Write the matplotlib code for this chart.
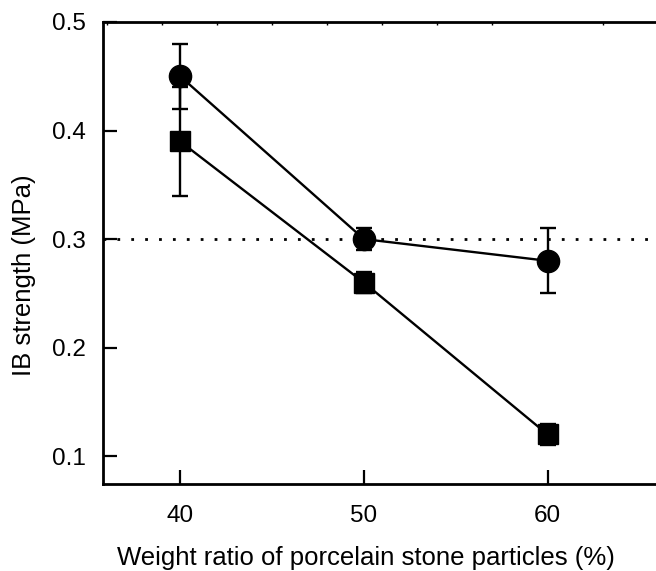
import numpy as np
import matplotlib.pyplot as plt

plt.rcParams['font.family'] = ['Liberation Sans', 'DejaVu Sans']

# weight ratio of porcelain stone particles (%)
ratio = [40, 50, 60]

# IB strength (MPa)
ib_circle = [0.45, 0.30, 0.28]
err_circle = [0.03, 0.01, 0.03]
ib_square = [0.39, 0.26, 0.12]
err_square = [0.05, 0.01, 0.01]

ref_level = 0.3

fig = plt.figure(figsize=(6.56, 5.71), dpi=100)
ax = fig.add_axes([0.157, 0.152, 0.843, 0.8095])

ax.axhline(ref_level, color='k', lw=2, linestyle=(0, (1, 4)), zorder=1)

ax.errorbar(ratio, ib_square, yerr=err_square, color='k', marker='s',
            markersize=14, lw=1.7, elinewidth=1.7, capsize=6, capthick=1.7,
            zorder=3)
ax.errorbar(ratio, ib_circle, yerr=err_circle, color='k', marker='o',
            markersize=16, lw=1.7, elinewidth=1.7, capsize=6, capthick=1.7,
            zorder=4)

ax.set_xlim(35.8, 65.9)
ax.set_ylim(0.0742, 0.5)
ax.set_xticks(ratio)
ax.set_yticks([0.1, 0.2, 0.3, 0.4, 0.5])
ax.set_xticks(np.arange(36, 64, 3), minor=True)

ax.spines['right'].set_visible(False)
for s in ['left', 'bottom', 'top']:
    ax.spines[s].set_linewidth(2)

ax.tick_params(which='major', direction='in', length=10, width=1.6,
               labelsize=17.5, top=False)
ax.tick_params(axis='y', pad=12)
ax.tick_params(axis='x', pad=15)
ax.tick_params(which='minor', direction='in', length=2, width=1,
               bottom=False, top=True)

ax.set_xlabel('Weight ratio of porcelain stone particles (%)', fontsize=18.5,
              labelpad=14)
ax.set_ylabel('IB strength (MPa)', fontsize=18.5, labelpad=12)
ax.xaxis.label.set_x(0.475)
ax.yaxis.label.set_y(0.452)

fig.savefig('out.png', dpi=100)
